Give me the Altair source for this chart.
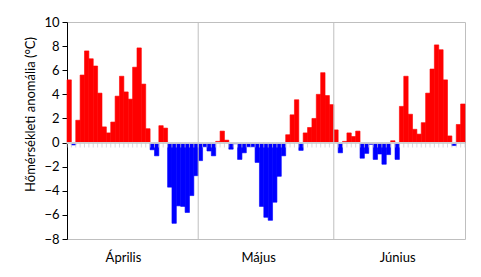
import altair as alt
import pandas as pd

# Daily temperature anomalies (°C)
april = [5.2, -0.2, 1.85, 5.6, 7.6, 6.95, 6.35, 4.1, 1.3, 0.8,
         1.7, 3.85, 5.5, 4.2, 3.6, 6.25, 7.85, 4.85, 1.15, -0.6,
         -1.1, 1.4, 1.2, -3.7, -6.7, -5.25, -5.3, -5.8, -4.4, -2.75]
may = [-1.5, -0.35, -0.7, -1.1, 0.1, 0.95, 0.2, -0.55, -0.1, -1.4,
       -0.85, -0.35, -0.35, -1.65, -5.3, -6.2, -6.45, -4.95, -2.8, -1.1,
       0.65, 2.3, 3.55, -0.65, 0.8, 1.25, 2.0, 4.0, 5.8, 3.9, 3.15]
june = [1.05, -0.85, 0.1, 0.8, 0.5, 0.95, -1.3, -0.9, -0.15, -1.4,
        -0.95, -1.8, -1.0, 0.15, -1.4, 3.0, 5.5, 2.35, 1.1, 0.7,
        1.65, 4.1, 6.1, 8.1, 7.7, 5.2, 0.55, -0.25, 1.5, 3.2]
months = ["Április", "Május", "Június"]
month_label_pos = [12.8, 43.7, 75.5]
month_bounds = [30, 61]
y_ticks = list(range(-8, 11, 2))

values = april + may + june
n = len(values)
df = pd.DataFrame({
    "start": list(range(n)),
    "end": [i + 1 for i in range(n)],
    "anom": values,
    "sign": ["pos" if v > 0 else "neg" for v in values],
})
bounds_df = pd.DataFrame({"b": list(range(n + 1))})
sep_df = pd.DataFrame({"m": month_bounds})

FONT = "Lato"
xscale = alt.Scale(domain=[0, n], nice=False, zero=False)
yscale = alt.Scale(domain=[-8, 10], nice=False)
cscale = alt.Scale(domain=["pos", "neg"], range=["#FF0000", "#0000FF"])

label_expr = (f"datum.value < {month_bounds[0]} ? '{months[0]}' : "
              f"(datum.value < {month_bounds[1]} ? '{months[1]}' : '{months[2]}')")

x_axis = alt.Axis(values=month_label_pos, labelExpr=label_expr, ticks=False,
                  domain=False, grid=False, title=None, labelFontSize=13,
                  labelFont=FONT, labelColor="#000000", labelPadding=12)
y_axis = alt.Axis(values=y_ticks, grid=False, domainColor="#000000",
                  tickColor="#000000", tickSize=5, labelFontSize=13,
                  labelFont=FONT, labelColor="#000000", labelPadding=3,
                  labelOverlap=False, tickCount=10,
                  title="Hőmérsékleti anomália (°C)", titleFont=FONT,
                  titleFontSize=13, titleFontWeight="normal",
                  titleColor="#000000", titlePadding=6, titleY=92)

bars = alt.Chart(df).mark_bar(strokeWidth=0.6).encode(
    x=alt.X("start:Q", scale=xscale, axis=x_axis),
    x2="end:Q",
    y=alt.Y("anom:Q", scale=yscale, axis=y_axis),
    y2=alt.datum(0),
    color=alt.Color("sign:N", scale=cscale, legend=None),
    stroke=alt.Stroke("sign:N", scale=cscale, legend=None),
)

seps = alt.Chart(sep_df).mark_rule(color="#BFBFBF", strokeWidth=1).encode(
    x=alt.X("m:Q", scale=xscale, axis=x_axis)
)

zero_line = alt.Chart(bounds_df).mark_rule(color="#D0D0D0", strokeWidth=1).encode(
    y=alt.YDatum(0, scale=yscale, axis=y_axis)
)

ticks = alt.Chart(bounds_df).mark_tick(orient="vertical", size=5, thickness=1,
                                       color="#C8C8D0", yOffset=2.5).encode(
    x=alt.X("b:Q", scale=xscale, axis=x_axis),
    y=alt.YDatum(0, scale=yscale, axis=y_axis),
)

chart = alt.layer(bars, seps, zero_line, ticks).properties(
    width=398, height=217,
    autosize=alt.AutoSizeParams(type="none"),
    padding={"left": 67, "top": 22, "right": 16, "bottom": 38},
).configure_view(stroke="#BFBFBF", strokeWidth=1)

chart.save("out.html", embed_options={"renderer": "svg", "actions": False})
